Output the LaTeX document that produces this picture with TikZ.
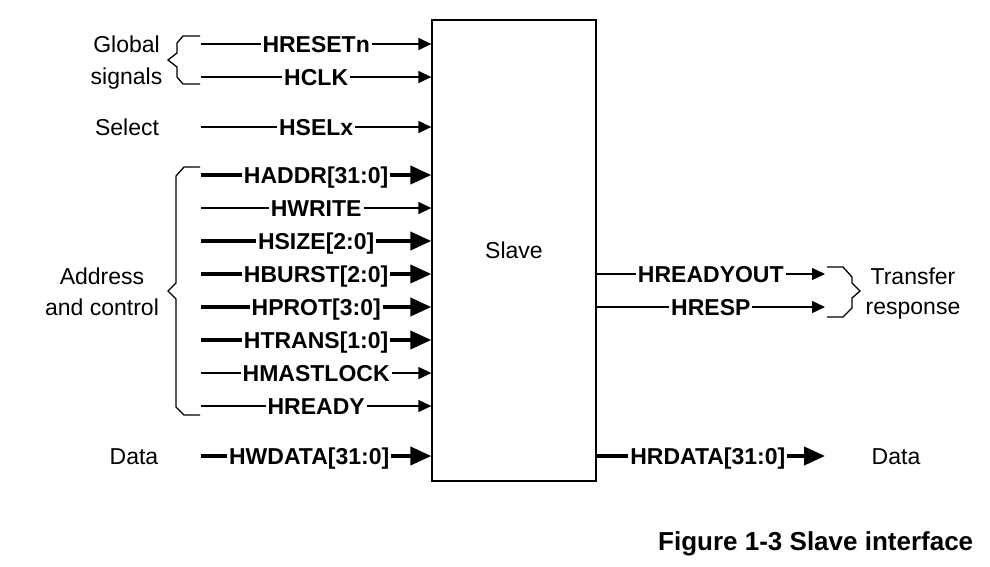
\documentclass[tikz,border=0pt]{standalone}
\usepackage{fontspec}
\setmainfont{Liberation Sans}
\usetikzlibrary{arrows.meta}
\tikzset{
  sig/.style={line width=1.3pt, -{Triangle[length=13pt,width=12pt]}},
  bus/.style={line width=4pt, -{Triangle[length=21pt,width=18pt]}},
  lbl/.style={fill=white, inner xsep=2pt, inner ysep=0pt, text height=16.5pt, text depth=0pt,
    font=\fontsize{23}{27}\selectfont\bfseries},
  grp/.style={inner sep=0pt, text height=16.5pt, text depth=0pt, font=\fontsize{23}{27}\selectfont},
  brc/.style={line width=1.3pt, line join=miter},
}
\begin{document}
\begin{tikzpicture}[x=1pt,y=-1pt]
  \useasboundingbox (0,0) rectangle (990,566);
  \node[draw, line width=1.3pt, minimum width=164pt, minimum height=461pt, inner sep=0pt,
    text height=16.5pt, text depth=0pt, font=\fontsize{23}{27}\selectfont] (slave) at (514,250.5) {Slave};

  % inputs
  \coordinate (hresetn) at (201,44);
  \coordinate (hclk) at (201,77);
  \coordinate (hselx) at (201,127);
  \coordinate (haddr) at (201,175);
  \coordinate (hwrite) at (201,208);
  \coordinate (hsize) at (201,241);
  \coordinate (hburst) at (201,274);
  \coordinate (hprot) at (201,307);
  \coordinate (htrans) at (201,340);
  \coordinate (hmastlock) at (201,373);
  \coordinate (hready) at (201,406);
  \coordinate (hwdata) at (201,456);
  \draw[sig] (hresetn) -- (hresetn -| slave.west) node[lbl, midway] (lresetn) {HRESETn};
  \draw[sig] (hclk) -- (hclk -| slave.west) node[lbl, midway] (lclk) {HCLK};
  \draw[sig] (hselx) -- (hselx -| slave.west) node[lbl, midway] (lselx) {HSELx};
  \draw[bus] (haddr) -- (haddr -| slave.west) node[lbl, midway] (laddr) {HADDR[31:0]};
  \draw[sig] (hwrite) -- (hwrite -| slave.west) node[lbl, midway] (lwrite) {HWRITE};
  \draw[bus] (hsize) -- (hsize -| slave.west) node[lbl, midway] (lsize) {HSIZE[2:0]};
  \draw[bus] (hburst) -- (hburst -| slave.west) node[lbl, midway] (lburst) {HBURST[2:0]};
  \draw[bus] (hprot) -- (hprot -| slave.west) node[lbl, midway] (lprot) {HPROT[3:0]};
  \draw[bus] (htrans) -- (htrans -| slave.west) node[lbl, midway] (ltrans) {HTRANS[1:0]};
  \draw[sig] (hmastlock) -- (hmastlock -| slave.west) node[lbl, midway] (lmastlock) {HMASTLOCK};
  \draw[sig] (hready) -- (hready -| slave.west) node[lbl, midway] (lready) {HREADY};
  \draw[bus] (hwdata) -- (hwdata -| slave.west) node[lbl, midway, xshift=-7pt] (lwdata) {HWDATA[31:0]};

  % outputs
  \coordinate (hreadyout) at (825,274);
  \coordinate (hresp) at (825,307);
  \coordinate (hrdata) at (825,456);
  \draw[sig] (hreadyout -| slave.east) -- (hreadyout) node[lbl, midway] (lreadyout) {HREADYOUT};
  \draw[sig] (hresp -| slave.east) -- (hresp) node[lbl, midway] (lresp) {HRESP};
  \draw[bus] (hrdata -| slave.east) -- (hrdata) node[lbl, midway, xshift=-3pt] (lrdata) {HRDATA[31:0]};

  % braces
  \draw[brc] (200,36) -- (183,36) -- (177,43) -- (177,53) -- (168,60) -- (177,67) -- (177,77) -- (183,84) -- (200,84);
  \draw[brc] (200,167) -- (184,167) -- (176,176) -- (176,283) -- (168,291) -- (176,299) -- (176,407) -- (184,415) -- (200,415);
  \draw[brc] (827,267) -- (843,267) -- (852,277) -- (852,283) -- (860,291) -- (852,298) -- (852,308) -- (843,317) -- (827,317);

  % group names
  \node[grp] (glob1) at (126.5,44) {Global};
  \node[grp] (glob2) at (126.5,76) {signals};
  \node[grp] (sel) at (127,127) {Select};
  \node[grp] (addr1) at (102,276) {Address};
  \node[grp] (addr2) at (102,307) {and control};
  \node[grp] (datal) at (134,456) {Data};
  \node[grp] (trans1) at (913,276) {Transfer};
  \node[grp] (trans2) at (913,306) {response};
  \node[grp] (datar) at (896,456) {Data};

  \node[anchor=base west, inner sep=0pt, font=\fontsize{26}{30}\selectfont\bfseries] (caption) at (658,550) {Figure 1-3 Slave interface};
\end{tikzpicture}
\end{document}
